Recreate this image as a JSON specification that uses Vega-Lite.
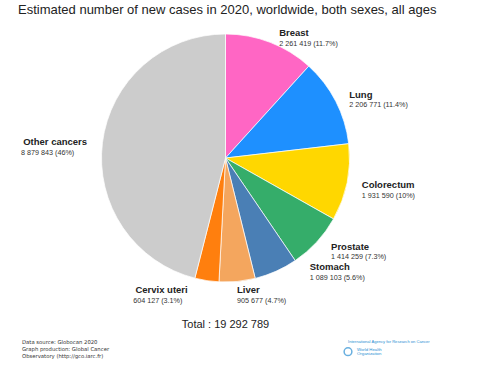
{
  "$schema": "https://vega.github.io/schema/vega-lite/v6.json",
  "padding": {"left": 17, "top": 4, "right": 5, "bottom": 5},
  "background": "white",
  "bounds": "flush",
  "spacing": 48.5,
  "config": {
    "view": {"stroke": null},
    "font": "Liberation Sans",
    "title": {"font": "Liberation Sans", "fontWeight": "normal", "color": "#222222", "baseline": "top"}
  },
  "vconcat": [
    {
      "width": 415,
      "height": 270,
      "title": {"text": "Estimated number of new cases in 2020, worldwide, both sexes, all ages", "anchor": "start", "frame": "group", "fontSize": 13, "offset": -10},
      "data": {"values": [
        {"cancer": "Breast", "cases": 2261419, "label": "2 261 419 (11.7%)", "rank": 1},
        {"cancer": "Lung", "cases": 2206771, "label": "2 206 771 (11.4%)", "rank": 2},
        {"cancer": "Colorectum", "cases": 1931590, "label": "1 931 590 (10%)", "rank": 3},
        {"cancer": "Prostate", "cases": 1414259, "label": "1 414 259 (7.3%)", "rank": 4},
        {"cancer": "Stomach", "cases": 1089103, "label": "1 089 103 (5.6%)", "rank": 5},
        {"cancer": "Liver", "cases": 905677, "label": "905 677 (4.7%)", "rank": 6},
        {"cancer": "Cervix uteri", "cases": 604127, "label": "604 127 (3.1%)", "rank": 7},
        {"cancer": "Other cancers", "cases": 8879843, "label": "8 879 843 (46%)", "rank": 8}
      ]},
      "encoding": {
        "theta": {"field": "cases", "type": "quantitative", "stack": true},
        "order": {"field": "rank", "type": "quantitative", "sort": "ascending"}
      },
      "layer": [
        {
          "mark": {"type": "arc", "radius": 124, "stroke": "white", "strokeWidth": 0.7},
          "encoding": {
            "color": {"field": "cancer", "type": "nominal", "legend": null,
              "scale": {"domain": ["Breast", "Lung", "Colorectum", "Prostate", "Stomach", "Liver", "Cervix uteri", "Other cancers"],
                        "range": ["#ff66c4", "#1e90ff", "#ffd700", "#35ad6a", "#4a7fb5", "#f4a65e", "#ff7f0e", "#cccccc"]}}
          }
        },
        {
          "mark": {"type": "text", "radius": 138, "align": "left", "baseline": "middle", "dx": 1, "dy": 0, "fontSize": 9.5, "fontWeight": "bold", "color": "#222222"},
          "encoding": {"text": {"condition": {"test": "datum.cancer === 'Lung' || datum.cancer === 'Colorectum'", "field": "cancer", "type": "nominal"}, "value": ""}}
        },
        {
          "mark": {"type": "text", "radius": 138, "align": "left", "baseline": "middle", "dx": 1, "dy": 10.5, "fontSize": 7.2, "color": "#333333"},
          "encoding": {"text": {"condition": {"test": "datum.cancer === 'Lung' || datum.cancer === 'Colorectum'", "field": "label", "type": "nominal"}, "value": ""}}
        },
        {
          "mark": {"type": "text", "radius": 138, "align": "left", "baseline": "middle", "dx": 4, "dy": 4, "fontSize": 9.5, "fontWeight": "bold", "color": "#222222"},
          "encoding": {"text": {"condition": {"test": "datum.cancer === 'Breast'", "field": "cancer", "type": "nominal"}, "value": ""}}
        },
        {
          "mark": {"type": "text", "radius": 138, "align": "left", "baseline": "middle", "dx": 4, "dy": 14.5, "fontSize": 7.2, "color": "#333333"},
          "encoding": {"text": {"condition": {"test": "datum.cancer === 'Breast'", "field": "label", "type": "nominal"}, "value": ""}}
        },
        {
          "mark": {"type": "text", "radius": 138, "align": "left", "baseline": "middle", "dx": 4, "dy": -4.5, "fontSize": 9.5, "fontWeight": "bold", "color": "#222222"},
          "encoding": {"text": {"condition": {"test": "datum.cancer === 'Prostate'", "field": "cancer", "type": "nominal"}, "value": ""}}
        },
        {
          "mark": {"type": "text", "radius": 138, "align": "left", "baseline": "middle", "dx": 4, "dy": 6, "fontSize": 7.2, "color": "#333333"},
          "encoding": {"text": {"condition": {"test": "datum.cancer === 'Prostate'", "field": "label", "type": "nominal"}, "value": ""}}
        },
        {
          "mark": {"type": "text", "radius": 138, "align": "left", "baseline": "middle", "dx": 28, "dy": -17, "fontSize": 9.5, "fontWeight": "bold", "color": "#222222"},
          "encoding": {"text": {"condition": {"test": "datum.cancer === 'Stomach'", "field": "cancer", "type": "nominal"}, "value": ""}}
        },
        {
          "mark": {"type": "text", "radius": 138, "align": "left", "baseline": "middle", "dx": 28, "dy": -6.5, "fontSize": 7.2, "color": "#333333"},
          "encoding": {"text": {"condition": {"test": "datum.cancer === 'Stomach'", "field": "label", "type": "nominal"}, "value": ""}}
        },
        {
          "mark": {"type": "text", "radius": 138, "align": "left", "baseline": "middle", "dx": -1.5, "dy": -5, "fontSize": 9.5, "fontWeight": "bold", "color": "#222222"},
          "encoding": {"text": {"condition": {"test": "datum.cancer === 'Liver'", "field": "cancer", "type": "nominal"}, "value": ""}}
        },
        {
          "mark": {"type": "text", "radius": 138, "align": "left", "baseline": "middle", "dx": -1.5, "dy": 5.5, "fontSize": 7.2, "color": "#333333"},
          "encoding": {"text": {"condition": {"test": "datum.cancer === 'Liver'", "field": "label", "type": "nominal"}, "value": ""}}
        },
        {
          "mark": {"type": "text", "radius": 138, "align": "right", "baseline": "middle", "dx": -17, "dy": -4, "fontSize": 9.5, "fontWeight": "bold", "color": "#222222"},
          "encoding": {"text": {"condition": {"test": "datum.cancer === 'Cervix uteri'", "field": "cancer", "type": "nominal"}, "value": ""}}
        },
        {
          "mark": {"type": "text", "radius": 138, "align": "left", "baseline": "middle", "dx": -71.5, "dy": 6.5, "fontSize": 7.2, "color": "#333333"},
          "encoding": {"text": {"condition": {"test": "datum.cancer === 'Cervix uteri'", "field": "label", "type": "nominal"}, "value": ""}}
        },
        {
          "mark": {"type": "text", "radius": 138, "align": "right", "baseline": "middle", "dx": -1.5, "dy": 1.5, "fontSize": 9.5, "fontWeight": "bold", "color": "#222222"},
          "encoding": {"text": {"condition": {"test": "datum.cancer === 'Other cancers'", "field": "cancer", "type": "nominal"}, "value": ""}}
        },
        {
          "mark": {"type": "text", "radius": 138, "align": "left", "baseline": "middle", "dx": -67.5, "dy": 12, "fontSize": 7.2, "color": "#333333"},
          "encoding": {"text": {"condition": {"test": "datum.cancer === 'Other cancers'", "field": "label", "type": "nominal"}, "value": ""}}
        }
      ]
    },
    {
      "width": 415,
      "height": 14,
      "title": {"text": "Total : 19 292 789", "anchor": "middle", "frame": "group", "fontSize": 11, "offset": 10},
      "data": {"values": [
        {"kind": "source", "col": 0, "line": 0, "text": "Data source: Globocan 2020"},
        {"kind": "source", "col": 0, "line": 1, "text": "Graph production: Global Cancer"},
        {"kind": "source", "col": 0, "line": 2, "text": "Observatory (http://gco.iarc.fr)"},
        {"kind": "iarc", "col": 1, "line": 0, "text": "International Agency for Research on Cancer"},
        {"kind": "who", "col": 1, "line": 1.2, "text": "World Health"},
        {"kind": "who", "col": 1, "line": 1.8, "text": "Organization"},
        {"kind": "emblem", "col": 1, "line": 1.45, "text": ""}
      ]},
      "encoding": {
        "x": {"field": "col", "type": "quantitative", "axis": null, "scale": {"domain": [0, 1], "range": [4, 330]}},
        "y": {"field": "line", "type": "quantitative", "axis": null, "scale": {"domain": [0, 2], "reverse": true}}
      },
      "layer": [
        {
          "transform": [{"filter": "datum.kind === 'source'"}],
          "mark": {"type": "text", "align": "left", "baseline": "middle", "fontSize": 5.3, "color": "#333333", "font": "DejaVu Sans"},
          "encoding": {"text": {"field": "text", "type": "nominal"}}
        },
        {
          "transform": [{"filter": "datum.kind === 'iarc'"}],
          "mark": {"type": "text", "align": "left", "baseline": "middle", "fontSize": 4.1, "color": "#2b8fd3", "font": "Liberation Sans"},
          "encoding": {"text": {"field": "text", "type": "nominal"}}
        },
        {
          "transform": [{"filter": "datum.kind === 'who'"}],
          "mark": {"type": "text", "align": "left", "baseline": "middle", "dx": 9, "fontSize": 4.3, "color": "#2b8fd3", "font": "Liberation Sans"},
          "encoding": {"text": {"field": "text", "type": "nominal"}}
        },
        {
          "transform": [{"filter": "datum.kind === 'emblem'"}],
          "mark": {"type": "point", "shape": "circle", "filled": false, "dx": 4, "size": 60, "stroke": "#2b8fd3", "strokeWidth": 1.5},
          "encoding": {}
        }
      ]
    }
  ]
}
